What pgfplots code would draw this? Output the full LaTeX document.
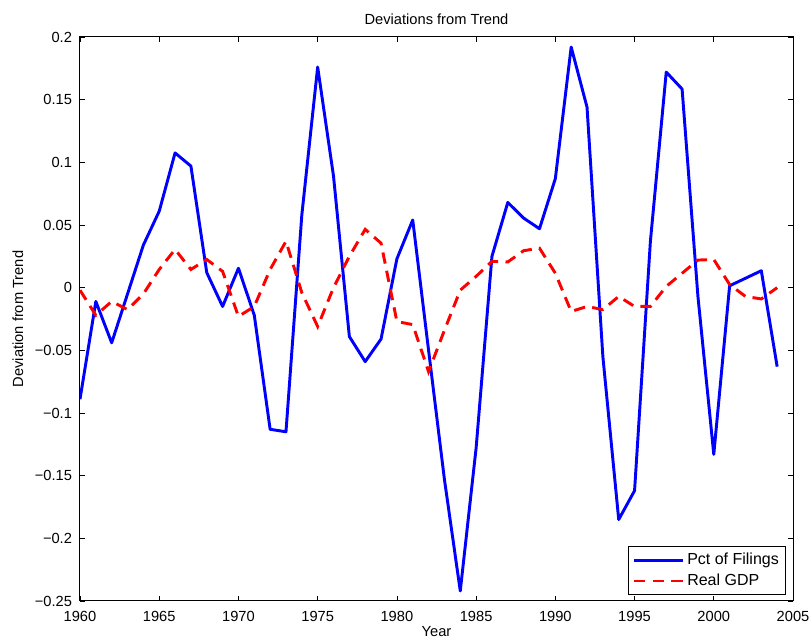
\documentclass[border=0pt]{standalone}
\usepackage{fontspec}
\setmainfont{Liberation Sans}
\usepackage{pgfplots}
\pgfplotsset{compat=1.18}
\begin{document}
\begin{tikzpicture}
\begin{axis}[
  name=ax,
  scale only axis,
  width=534.75pt, height=423pt,
  xmin=1960, xmax=2005, ymin=-0.25, ymax=0.2,
  xtick={1960,1965,...,2005},
  xticklabels={1960,1965,1970,1975,1980,1985,1990,1995,2000,2005},
  ytick={-0.25,-0.2,-0.15,-0.1,-0.05,0,0.05,0.1,0.15,0.2},
  yticklabels={−0.25,−0.2,−0.15,−0.1,−0.05,0,0.05,0.1,0.15,0.2},
  tick align=inside, tick pos=both,
  major tick length=3.75pt,
  tick style={black, line width=0.5pt},
  axis line style={black, line width=0.75pt},
  font=\fontsize{11}{13}\selectfont,
  xticklabel style={anchor=base, yshift=-15.75pt},
  yticklabel style={anchor=east, xshift=-2.5pt},
  title={Deviations from Trend},
  title style={at={(axis description cs:0.5,1.0071)}, anchor=base},
  xlabel={Year},
  xlabel style={at={(axis description cs:0.5,-0.0621)}, anchor=base},
  ylabel={Deviation from Trend},
  ylabel style={at={(axis description cs:-0.0799,0.5)}, anchor=base, rotate=0},
  legend style={at={(1,0)}, anchor=south east, xshift=-5.25pt, yshift=4.5pt,
    draw=black, line width=0.75pt, font=\fontsize{12}{14}\selectfont,
    row sep=1.5pt, inner xsep=3pt, inner ysep=3pt},
  legend cell align=left,
  legend image code/.code={\draw[#1] (0pt,0pt) -- (36.75pt,0pt);},
]
\addplot[color={rgb,255:red,0;green,0;blue,255}, line width=2.2pt, line join=round] coordinates {
(1960,-0.089) (1961,-0.011) (1962,-0.044) (1963,-0.005) (1964,0.034)
(1965,0.061) (1966,0.1075) (1967,0.097) (1968,0.012) (1969,-0.015)
(1970,0.0155) (1971,-0.022) (1972,-0.113) (1973,-0.115) (1974,0.058)
(1975,0.176) (1976,0.089) (1977,-0.039) (1978,-0.059) (1979,-0.041)
(1980,0.023) (1981,0.054) (1982,-0.05) (1983,-0.153) (1984,-0.242)
(1985,-0.128) (1986,0.025) (1987,0.068) (1988,0.0555) (1989,0.047)
(1990,0.087) (1991,0.192) (1992,0.144) (1993,-0.055) (1994,-0.185)
(1995,-0.162) (1996,0.037) (1997,0.172) (1998,0.1585) (1999,-0.007)
(2000,-0.133) (2001,0.0015) (2002,0.0075) (2003,0.0135) (2004,-0.063)
};
\addlegendentry{Pct of Filings}
\addplot[color={rgb,255:red,255;green,0;blue,0}, line width=2.2pt, dash pattern=on 8.5pt off 5.5pt] coordinates {
(1960,-0.002) (1961,-0.022) (1962,-0.011) (1963,-0.0175) (1964,-0.005)
(1965,0.0145) (1966,0.0305) (1967,0.0145) (1968,0.0225) (1969,0.013)
(1970,-0.023) (1971,-0.015) (1972,0.0145) (1973,0.037) (1974,-0.004)
(1975,-0.031) (1976,0.0) (1977,0.025) (1978,0.0465) (1979,0.0355)
(1980,-0.027) (1981,-0.0295) (1982,-0.067) (1983,-0.034) (1984,-0.002)
(1985,0.009) (1986,0.021) (1987,0.0205) (1988,0.0295) (1989,0.0315)
(1990,0.0115) (1991,-0.019) (1992,-0.015) (1993,-0.0175) (1994,-0.007)
(1995,-0.015) (1996,-0.015) (1997,0.001) (1998,0.0115) (1999,0.022)
(2000,0.0225) (2001,0.0025) (2002,-0.007) (2003,-0.009) (2004,0.0)
};
\addlegendentry{Real GDP}
\end{axis}
\pgfresetboundingbox
\path ([xshift=-60pt,yshift=-29.25pt]ax.south west) rectangle ([xshift=14.25pt,yshift=27.75pt]ax.north east);
\end{tikzpicture}
\end{document}
